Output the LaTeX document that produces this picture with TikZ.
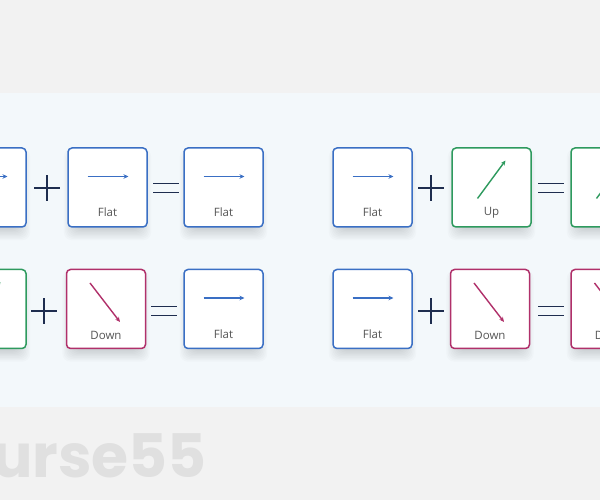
\documentclass[tikz,border=0pt]{standalone}
\usepackage{fontspec}
\setmainfont{Open Sans}
\newfontfamily\wmfont{Poppins}[UprightFont=* Bold]
\usetikzlibrary{arrows.meta}
\definecolor{cblue}{HTML}{3A6FC4}
\definecolor{cgreen}{HTML}{2E9A5E}
\definecolor{cred}{HTML}{B0306A}
\definecolor{navy}{HTML}{1E2D4F}
\definecolor{panel}{HTML}{F3F8FB}
\definecolor{bg}{HTML}{F2F2F2}
\definecolor{wm}{HTML}{E0E0E0}
\definecolor{lbl}{HTML}{555555}
\tikzset{
  card/.style={draw=#1, fill=white, line width=1.5pt, rounded corners=4pt,
    minimum width=79pt, minimum height=79pt, inner sep=0pt},
  vec/.style={draw=#1, line width=1.4pt, -{Stealth[length=5pt,width=4.5pt]}},
  lab/.style={text=lbl, font=\fontsize{11.5}{13}\selectfont, inner sep=0pt},
  op/.style={draw=navy, line width=1.6pt},
  opn/.style={minimum size=25pt, inner sep=0pt}
}
\newcommand\softshadow[2]{%
  \foreach \k in {0,...,9}{
    \fill[black, opacity=0.014, rounded corners=8pt]
      ({#1-38+6-\k*1.3},{#2-7-38+4-\k*1.3}) rectangle ({#1+38-6+\k*1.3},{#2-7+38-4+\k*1.3});
  }}
\newcommand\flatcard[3]{% name, cx, cy
  \softshadow{#2}{#3}
  \node[card=cblue] (#1) at (#2,#3) {};
  \draw[vec=cblue] ([xshift=-20pt,yshift=11pt]#1.center) -- ([xshift=21pt,yshift=11pt]#1.center);
  \node[lab] at ([yshift=-25pt]#1.center) {Flat};}
\newcommand\upcard[3]{%
  \softshadow{#2}{#3}
  \node[card=cgreen] (#1) at (#2,#3) {};
  \draw[vec=cgreen] ([xshift=-14pt,yshift=-11pt]#1.center) -- ([xshift=14pt,yshift=27pt]#1.center);
  \node[lab] at ([yshift=-25pt]#1.center) {Up};}
\newcommand\downcard[3]{%
  \softshadow{#2}{#3}
  \node[card=cred] (#1) at (#2,#3) {};
  \draw[vec=cred] ([xshift=-16pt,yshift=26pt]#1.center) -- ([xshift=14pt,yshift=-13pt]#1.center);
  \node[lab] at ([yshift=-26pt]#1.center) {Down};}
\newcommand\plusop[3]{%
  \node[opn] (#1) at (#2,#3) {};
  \draw[op] (#1.west) -- (#1.east);
  \draw[op] (#1.north) -- (#1.south);}
\newcommand\eqop[3]{%
  \node[opn] (#1) at (#2,#3) {};
  \draw[op, line width=1.9pt] ([yshift=4.5pt]#1.west) -- ([yshift=4.5pt]#1.east);
  \draw[op, line width=1.9pt] ([yshift=-4.5pt]#1.west) -- ([yshift=-4.5pt]#1.east);}
\begin{document}
\begin{tikzpicture}[x=1pt,y=1pt]
\fill[bg] (0,0) rectangle (600,500);
\useasboundingbox (0,0) rectangle (600,500);
\fill[panel] (0,93) rectangle (600,407);
\node[text=wm, font=\wmfont\fontsize{60}{60}\selectfont, anchor=base west, inner sep=0pt] (wmk) at (-8,22) {urse55};
% row 1
\flatcard{a0}{-13.5}{312.5}
\plusop{p1}{47}{312}
\flatcard{a1}{107.5}{312.5}
\eqop{e1}{166}{312}
\flatcard{a2}{223.5}{312.5}
\flatcard{b0}{372.5}{312.5}
\plusop{p2}{431}{312}
\upcard{b1}{491.5}{312.5}
\eqop{e2}{551}{312}
\upcard{b2}{610.5}{312.5}
% row 2
\upcard{c0}{-13.5}{191}
\plusop{p3}{44}{189}
\downcard{c1}{106}{191}
\eqop{e3}{164}{189}
\flatcard{c2}{223.5}{191}
\flatcard{d0}{372.5}{191}
\plusop{p4}{431}{189}
\downcard{d1}{490}{191}
\eqop{e4}{551}{189}
\downcard{d2}{610.5}{191}
\end{tikzpicture}
\end{document}
